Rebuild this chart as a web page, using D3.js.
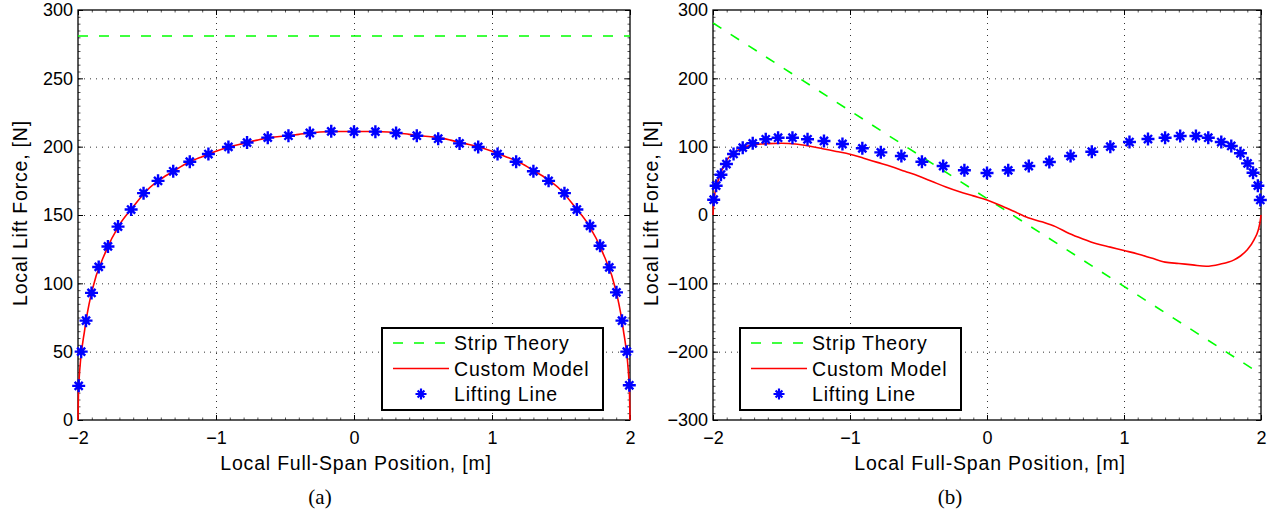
<!DOCTYPE html>
<html>
<head>
<meta charset="utf-8">
<script src="https://cdn.jsdelivr.net/npm/d3@7"></script>
<style>
  body { margin: 0; background: #fff; }
  svg { display: block; }
  .tick text { font-family: "Liberation Sans", Arial, sans-serif; font-size: 18px; fill: #000; }
  .label { font-family: "Liberation Sans", Arial, sans-serif; font-size: 19.5px; letter-spacing: 0.8px; fill: #000; }
  .legend text { font-family: "Liberation Sans", Arial, sans-serif; font-size: 19.5px; letter-spacing: 0.8px; fill: #000; }
  .caption { font-family: "Liberation Serif", "Times New Roman", serif; font-size: 21px; fill: #000; }
</style>
</head>
<body>
<svg></svg>
<script>
"use strict";

// shared tick values
const xTicks = [-2, -1, 0, 1, 2];
const yTicksA = [0, 50, 100, 150, 200, 250, 300];
const yTicksB = [-300, -200, -100, 0, 100, 200, 300];

// lifting line stations (same for both panels)
const liftX = [-1.995, -1.977, -1.942, -1.902, -1.85, -1.783, -1.71, -1.615, -1.525, -1.42, -1.31, -1.19,
  -1.055, -0.91, -0.775, -0.625, -0.475, -0.32, -0.165, 0, 0.155, 0.305, 0.455, 0.61, 0.765, 0.9, 1.04,
  1.175, 1.3, 1.41, 1.525, 1.615, 1.71, 1.783, 1.85, 1.902, 1.942, 1.977, 1.995];

// panel (a)
const stripXA = [-2, 2];
const stripYA = [281, 281];
const customXA = [-2, -1.995, -1.95, -1.9, -1.8, -1.7, -1.6, -1.5, -1.4, -1.3, -1.2, -1.1, -1.0, -0.9, -0.8,
  -0.7, -0.6, -0.5, -0.4, -0.3, -0.2, -0.1, 0, 0.1, 0.2, 0.3, 0.4, 0.5, 0.6, 0.7, 0.8, 0.9, 1.0, 1.1, 1.2,
  1.3, 1.4, 1.5, 1.6, 1.7, 1.8, 1.9, 1.95, 1.995, 2];
const customYA = [0, 25, 67, 94, 123, 142.8, 156, 168.1, 176.3, 182.6, 188.4, 192.7, 196.6, 200, 202.4,
  204.8, 206.8, 207.8, 209, 210.2, 210.9, 211.1, 211, 211.1, 210.9, 210.2, 209, 207.8, 206.8, 204.8, 202.4,
  200, 196.6, 192.7, 188.4, 182.6, 176.3, 168.1, 156, 142.8, 123, 94, 67, 25, 0];
const liftYA = [25, 50, 72.7, 93, 112, 127, 141.5, 154, 166, 175, 182, 189, 194.6, 199.8, 203, 206.6, 208,
  210, 211.2, 211, 211, 210, 208, 205.8, 202.4, 199.8, 194.6, 189, 182, 175, 166, 154, 142, 127.5, 111.7,
  93.4, 72.7, 50, 25.4];

// panel (b)
const stripXB = [-2, 2];
const stripYB = [281, -233];
const customXB = [-2, -1.995, -1.985, -1.97, -1.95, -1.9, -1.85, -1.8, -1.7, -1.6, -1.5, -1.4, -1.3, -1.2,
  -1.1, -1.0, -0.9, -0.8, -0.7, -0.6, -0.5, -0.4, -0.3, -0.2, -0.1, 0, 0.1, 0.2, 0.3, 0.4, 0.5, 0.6, 0.7,
  0.8, 0.9, 1.0, 1.1, 1.2, 1.3, 1.4, 1.5, 1.6, 1.7, 1.8, 1.85, 1.9, 1.95, 1.98, 1.995, 2];
const customYB = [0, 18, 33, 45, 58, 80, 90, 97, 102.5, 104.5, 105, 104, 101, 97, 93, 89, 83, 77, 71, 64,
  57, 49, 41, 34, 28, 22, 14, 5, -4, -10, -17, -27, -35, -42, -47, -52, -57, -63, -69, -71, -73, -75, -72,
  -66, -60, -51, -36, -22, -8, 0];
const liftYB = [22.4, 42.9, 59, 74.6, 89.3, 98.5, 104.9, 110.8, 113.1, 113.1, 110.8, 108.3, 103.9, 97.6,
  91.7, 86.3, 78, 71.7, 65.4, 61.5, 65.4, 71.7, 77.6, 86.3, 92.6, 100, 106.8, 111.2, 113.1, 115.6, 115.6,
  113.1, 106.8, 101, 90.3, 75.6, 61.9, 42.9, 22];

const legendNames = ["Strip Theory", "Custom Model", "Lifting Line"];
const xLabel = "Local Full-Span Position, [m]";
const yLabel = "Local Lift Force, [N]";

const width = 1278;
const height = 514;
const green = "#00ff00";
const red = "#ff0000";
const blue = "#0000ff";

const svg = d3.select("svg").attr("width", width).attr("height", height);

// matlab style '*' marker: bold plus with shorter diagonals
const asterisk = (r) => {
  const d = r * 0.62;
  return `M${-r},0H${r}M0,${-r}V${r}M${-d},${-d}L${d},${d}M${-d},${d}L${d},${-d}`;
};

const drawPanel = (p) => {
  const xScale = d3.scaleLinear().domain([-2, 2]).range([p.left, p.right]);
  const yScale = d3.scaleLinear().domain(p.yDomain).range([p.bottom, p.top]);
  const h = p.bottom - p.top;
  const w = p.right - p.left;
  const g = svg.append("g");

  // dotted grid
  const gx = g.append("g").attr("transform", `translate(0,${p.bottom})`)
    .call(d3.axisBottom(xScale).tickValues(xTicks.slice(1, -1)).tickSize(-h).tickFormat(""));
  const gy = g.append("g").attr("transform", `translate(${p.left},0)`)
    .call(d3.axisLeft(yScale).tickValues(p.yTicks.slice(1, -1)).tickSize(-w).tickFormat(""));
  [gx, gy].forEach((s) => {
    s.select(".domain").remove();
    s.selectAll("line").attr("stroke", "#333").attr("stroke-dasharray", "1,5");
  });

  // minor ticks on all sides
  const minorX = d3.range(-20, 21).map((i) => i / 10);
  const minorY = d3.range(p.yDomain[0], p.yDomain[1] + 0.001, p.yMinor);
  const minor = [
    [d3.axisBottom(xScale).tickValues(minorX), `translate(0,${p.bottom})`],
    [d3.axisTop(xScale).tickValues(minorX), `translate(0,${p.top})`],
    [d3.axisLeft(yScale).tickValues(minorY), `translate(${p.left},0)`],
    [d3.axisRight(yScale).tickValues(minorY), `translate(${p.right},0)`],
  ];
  minor.forEach(([ax, tr]) => {
    const s = g.append("g").attr("transform", tr).call(ax.tickSize(-2.5).tickFormat(""));
    s.select(".domain").remove();
    s.selectAll("line").attr("stroke", "#555");
  });

  // major ticks + labels
  const xAxis = g.append("g").attr("transform", `translate(0,${p.bottom})`)
    .call(d3.axisBottom(xScale).tickValues(xTicks).tickSize(-5).tickPadding(11).tickFormat(d3.format("d")));
  const xTop = g.append("g").attr("transform", `translate(0,${p.top})`)
    .call(d3.axisTop(xScale).tickValues(xTicks).tickSize(-5).tickFormat(""));
  const yAxis = g.append("g").attr("transform", `translate(${p.left},0)`)
    .call(d3.axisLeft(yScale).tickValues(p.yTicks).tickSize(-5).tickPadding(5).tickFormat(d3.format("d")));
  const yRight = g.append("g").attr("transform", `translate(${p.right},0)`)
    .call(d3.axisRight(yScale).tickValues(p.yTicks).tickSize(-5).tickFormat(""));
  [xAxis, xTop, yAxis, yRight].forEach((s) => {
    s.select(".domain").remove();
    s.selectAll("line").attr("stroke", "#000");
  });
  xAxis.selectAll("text").attr("dy", "0.71em");

  // frame
  g.append("rect")
    .attr("x", p.left).attr("y", p.top).attr("width", w).attr("height", h)
    .attr("fill", "none").attr("stroke", "#000").attr("stroke-width", 1.3);

  // series
  const line = d3.line().x((d) => xScale(d[0])).y((d) => yScale(d[1]));
  g.append("path")
    .datum(p.stripX.map((x, i) => [x, p.stripY[i]]))
    .attr("d", line)
    .attr("fill", "none").attr("stroke", green).attr("stroke-width", 1.6).attr("stroke-dasharray", "10,11");
  g.append("path")
    .datum(p.customX.map((x, i) => [x, p.customY[i]]))
    .attr("d", line.curve(d3.curveMonotoneX))
    .attr("fill", "none").attr("stroke", red).attr("stroke-width", 1.6);
  g.selectAll(null)
    .data(liftX.map((x, i) => [x, p.liftY[i]]))
    .enter()
    .append("path")
    .attr("transform", (d) => `translate(${xScale(d[0])},${yScale(d[1])})`)
    .attr("d", asterisk(6.5))
    .attr("fill", "none").attr("stroke", blue).attr("stroke-width", 2.4);

  // axis titles
  svg.append("text").attr("class", "label")
    .attr("x", p.xLabelX).attr("y", 470).attr("text-anchor", "middle").text(xLabel);
  svg.append("text").attr("class", "label")
    .attr("transform", `translate(${p.yLabelX},213) rotate(-90)`)
    .attr("text-anchor", "middle").text(yLabel);
  svg.append("text").attr("class", "caption")
    .attr("x", p.captionX).attr("y", 504).attr("text-anchor", "middle").text(p.caption);

  // legend
  const lg = svg.append("g").attr("class", "legend").attr("transform", `translate(${p.legendX},328)`);
  lg.append("rect").attr("width", 221).attr("height", 82)
    .attr("fill", "#fff").attr("stroke", "#000").attr("stroke-width", 2);
  const rows = [15, 40.5, 66];
  lg.append("line").attr("x1", 11).attr("x2", 67).attr("y1", rows[0]).attr("y2", rows[0])
    .attr("stroke", green).attr("stroke-width", 1.6).attr("stroke-dasharray", "10,11");
  lg.append("line").attr("x1", 11).attr("x2", 67).attr("y1", rows[1]).attr("y2", rows[1])
    .attr("stroke", red).attr("stroke-width", 1.6);
  lg.append("path").attr("transform", `translate(39,${rows[2]})`).attr("d", asterisk(5.5))
    .attr("fill", "none").attr("stroke", blue).attr("stroke-width", 2.2);
  legendNames.forEach((name, i) => {
    lg.append("text").attr("x", 72).attr("y", rows[i] + 7).text(name);
  });
};

drawPanel({
  left: 78, right: 630, top: 10, bottom: 420,
  yDomain: [0, 300], yTicks: yTicksA, yMinor: 5,
  stripX: stripXA, stripY: stripYA,
  customX: customXA, customY: customYA,
  liftY: liftYA,
  xLabelX: 356, yLabelX: 27,
  caption: "(a)", captionX: 320,
  legendX: 382,
});

drawPanel({
  left: 713, right: 1261, top: 10, bottom: 420,
  yDomain: [-300, 300], yTicks: yTicksB, yMinor: 10,
  stripX: stripXB, stripY: stripYB,
  customX: customXB, customY: customYB,
  liftY: liftYB,
  xLabelX: 990, yLabelX: 658,
  caption: "(b)", captionX: 950,
  legendX: 740,
});
</script>
</body>
</html>
